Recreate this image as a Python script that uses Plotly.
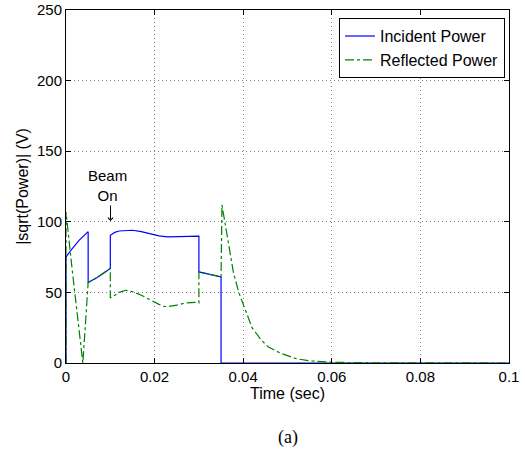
import plotly.graph_objects as go

# Incident power envelope |sqrt(P)| (V) versus time (s)
t_inc = [0.0, 0.0, 0.001, 0.002, 0.003, 0.004, 0.005,
         0.005, 0.006, 0.007, 0.008, 0.009, 0.010,
         0.010, 0.011, 0.012, 0.0135, 0.015, 0.017, 0.019, 0.021, 0.023,
         0.025, 0.027, 0.029, 0.030,
         0.030, 0.032, 0.034, 0.035,
         0.035, 0.06, 0.08, 0.1]
v_inc = [0, 75, 79.5, 83.5, 87, 90, 93,
         57, 58.5, 60.5, 62.5, 64.7, 67,
         90.5, 92.5, 93.5, 94, 94, 93, 91.5, 90, 89.3,
         89.5, 90, 90, 89.8,
         64.5, 63.2, 61.8, 61,
         0, 0, 0, 0]

# Reflected power envelope |sqrt(P)| (V) versus time (s)
t_ref = [0.0, 0.0, 0.0014, 0.0026, 0.0038, 0.0044, 0.005,
         0.006, 0.007, 0.008, 0.009, 0.010,
         0.010, 0.011, 0.012, 0.0135, 0.015, 0.017, 0.019, 0.021, 0.022,
         0.023, 0.025, 0.027, 0.029, 0.030,
         0.030, 0.032, 0.034, 0.035,
         0.0352, 0.0363, 0.0378, 0.039, 0.0403, 0.042, 0.044, 0.0457,
         0.0484, 0.052, 0.055, 0.06, 0.07, 0.08, 0.1]
v_ref = [0, 107, 66, 34, 0, 28, 57,
         58.5, 60.5, 62.5, 64.7, 67,
         46, 48, 50, 51.5, 50.5, 48, 44.5, 41.5, 40,
         40, 41, 42.5, 43, 42.5,
         64.5, 63.2, 61.8, 61,
         112, 90.6, 64, 50, 39, 25, 16.5, 11.3,
         7, 3, 1.5, 0.5, 0.1, 0, 0]

x_ticks = [0, 0.02, 0.04, 0.06, 0.08, 0.1]
x_tick_text = ["0", "0.02", "0.04", "0.06", "0.08", "0.1"]
y_ticks = [0, 50, 100, 150, 200, 250]

sans = "Liberation Sans, Arial, Helvetica, sans-serif"
serif = "Liberation Serif, Times New Roman, serif"

fig = go.Figure()
fig.add_trace(go.Scatter(
    x=t_inc, y=v_inc, mode="lines", name="Incident Power",
    line=dict(color="#0000ff", width=1.2),
))
fig.add_trace(go.Scatter(
    x=t_ref, y=v_ref, mode="lines", name="Reflected Power",
    line=dict(color="#008000", width=1.2, dash="dashdot"),
))

axis_common = dict(
    showline=True, linecolor="black", linewidth=1, mirror="ticks",
    ticks="inside", ticklen=5, tickcolor="black",
    showgrid=True, gridcolor="#808080", griddash="1px,3px", gridwidth=1,
    zeroline=False, automargin=False,
    tickfont=dict(family=sans, size=15, color="black"),
)

fig.update_xaxes(
    range=[0, 0.1], tickvals=x_ticks, ticktext=x_tick_text,
    title=dict(text="Time (sec)", font=dict(family=sans, size=16, color="black"),
               standoff=0),
    **axis_common,
)
fig.update_yaxes(
    range=[0, 250], tickvals=y_ticks,
    title=dict(text="|sqrt(Power)| (V)", font=dict(family=sans, size=16, color="black"),
               standoff=4),
    **axis_common,
)

# "Beam On" marker above the step at t = 10 ms
fig.add_annotation(
    x=0.0094, y=126, xref="x", yref="y",
    text="Beam<br>On", showarrow=False,
    yanchor="middle", xanchor="center",
    font=dict(family=sans, size=15, color="black"),
)
fig.add_annotation(
    x=0.01005, y=100.6, xref="x", yref="y",
    text="", showarrow=True,
    ax=0, ay=-17, arrowhead=4, arrowsize=1, arrowwidth=1,
    arrowcolor="black", standoff=0, startstandoff=0,
)

fig.add_annotation(
    x=0.5, y=-0.21, xref="paper", yref="paper",
    text="(a)", showarrow=False, yanchor="middle",
    font=dict(family=serif, size=18, color="black"),
)

fig.update_layout(
    width=525, height=450,
    margin=dict(l=66, r=16, t=10, b=87),
    paper_bgcolor="white", plot_bgcolor="white",
    showlegend=True,
    legend=dict(
        x=0.991, y=0.977, xanchor="right", yanchor="top",
        bordercolor="black", borderwidth=1, bgcolor="white",
        font=dict(family=sans, size=16, color="black"),
        tracegroupgap=0, itemwidth=30,
    ),
)

fig.write_html("out.html")
